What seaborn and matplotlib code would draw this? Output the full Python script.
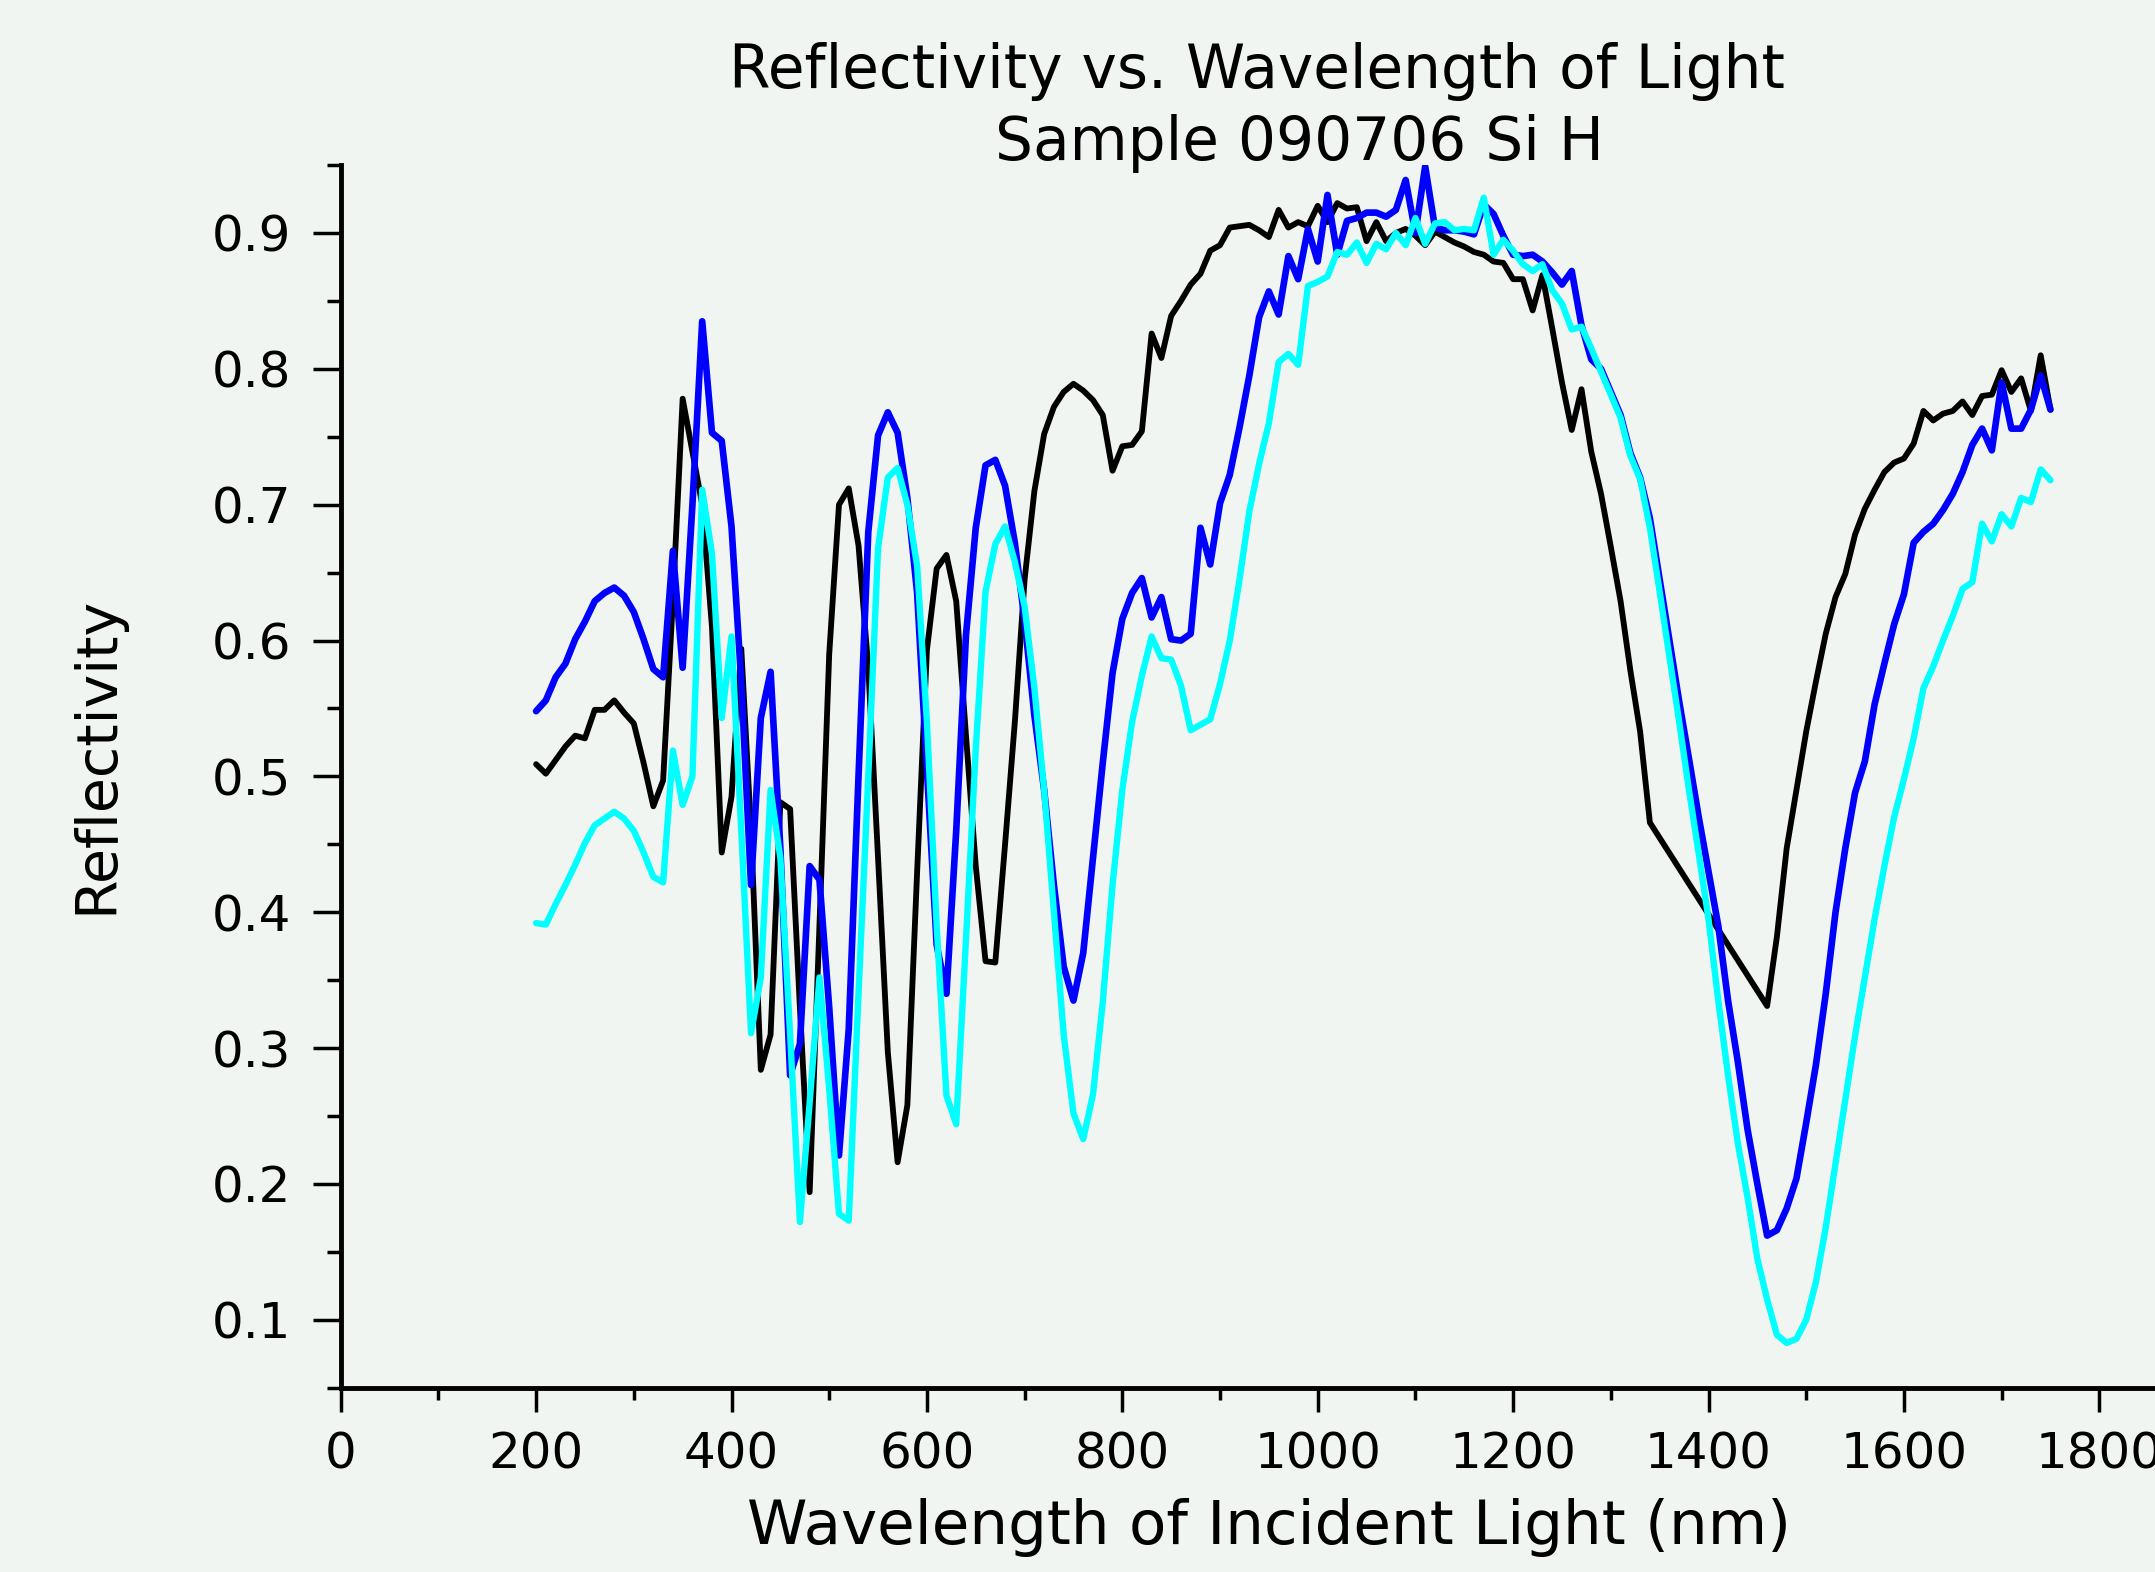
import numpy as np
import pandas as pd
import matplotlib
matplotlib.use("Agg")
import matplotlib.pyplot as plt
import seaborn as sns
from matplotlib.ticker import FixedLocator

nan = np.nan

# Wavelength grid (nm)
wavelength = list(range(200, 1760, 10))

black_vals = [
    0.509, 0.502, 0.512, 0.522, 0.530, 0.528, 0.549, 0.549, 0.556, 0.547,
    0.539, 0.510, 0.478, 0.497, 0.630, 0.778, 0.739, 0.700, 0.610, 0.444,
    0.485, 0.594, 0.460, 0.284, 0.310, 0.481, 0.476, 0.330, 0.194, 0.390,
    0.590, 0.700, 0.712, 0.670, 0.580, 0.440, 0.297, 0.216, 0.258, 0.430,
    0.593, 0.653, 0.663, 0.629, 0.530, 0.434, 0.364, 0.363, 0.450, 0.540,
    0.645, 0.710, 0.752, 0.772, 0.783, 0.789, 0.784, 0.777, 0.766, 0.725,
    0.743, 0.744, 0.754, 0.826, 0.808, 0.839, 0.850, 0.862, 0.870, 0.887,
    0.891, 0.904, 0.905, 0.906, 0.902, 0.897, 0.917, 0.904, 0.908, 0.905,
    0.920, 0.908, 0.922, 0.918, 0.919, 0.894, 0.908, 0.894, 0.900, 0.903,
    0.898, 0.891, 0.901, 0.897, 0.893, 0.890, 0.886, 0.884, 0.879, 0.878,
    0.866, 0.866, 0.843, 0.869, 0.830, 0.790, 0.755, 0.785, 0.739, 0.708,
    0.669, 0.629, 0.578, 0.533, 0.466, nan, nan, nan, nan, nan,
    nan, nan, nan, nan, nan, nan, 0.331, 0.382, 0.447, 0.490,
    0.533, 0.570, 0.605, 0.632, 0.649, 0.678, 0.697, 0.711, 0.724, 0.731,
    0.734, 0.745, 0.769, 0.762, 0.767, 0.769, 0.776, 0.766, 0.780, 0.781,
    0.799, 0.783, 0.793, 0.769, 0.810, 0.770,
]

blue_vals = [
    0.548, 0.556, 0.573, 0.583, 0.601, 0.614, 0.629, 0.635, 0.639, 0.633,
    0.621, 0.601, 0.579, 0.573, 0.666, 0.580, 0.700, 0.835, 0.753, 0.747,
    0.684, 0.570, 0.420, 0.543, 0.577, 0.447, 0.280, 0.303, 0.434, 0.424,
    0.330, 0.221, 0.314, 0.500, 0.680, 0.751, 0.768, 0.753, 0.705, 0.635,
    0.505, 0.376, 0.340, 0.460, 0.604, 0.683, 0.729, 0.733, 0.714, 0.672,
    0.615, 0.545, 0.490, 0.420, 0.360, 0.335, 0.370, 0.440, 0.510, 0.576,
    0.616, 0.635, 0.646, 0.617, 0.632, 0.601, 0.600, 0.605, 0.683, 0.656,
    0.701, 0.722, 0.757, 0.795, 0.838, 0.857, 0.840, 0.883, 0.866, 0.903,
    0.879, 0.928, 0.884, 0.909, 0.911, 0.915, 0.915, 0.912, 0.917, 0.939,
    0.900, 0.949, 0.904, 0.902, 0.902, 0.901, 0.899, 0.921, 0.914, 0.898,
    0.884, 0.883, 0.884, 0.879, 0.871, 0.862, 0.872, 0.832, 0.807, 0.800,
    0.783, 0.766, 0.738, 0.720, 0.690, 0.645, 0.600, 0.555, 0.513, 0.470,
    0.430, 0.390, 0.335, 0.290, 0.240, 0.200, 0.162, 0.166, 0.182, 0.204,
    0.245, 0.288, 0.340, 0.400, 0.447, 0.488, 0.511, 0.553, 0.583, 0.612,
    0.634, 0.672, 0.680, 0.686, 0.696, 0.708, 0.724, 0.744, 0.756, 0.740,
    0.790, 0.756, 0.756, 0.770, 0.795, 0.770,
]

cyan_vals = [
    0.392, 0.391, 0.406, 0.420, 0.435, 0.451, 0.464, 0.469, 0.474, 0.469,
    0.460, 0.444, 0.426, 0.422, 0.519, 0.479, 0.500, 0.711, 0.664, 0.543,
    0.603, 0.460, 0.311, 0.352, 0.490, 0.440, 0.310, 0.172, 0.260, 0.352,
    0.270, 0.178, 0.173, 0.340, 0.500, 0.668, 0.720, 0.727, 0.700, 0.655,
    0.540, 0.390, 0.265, 0.244, 0.380, 0.520, 0.636, 0.671, 0.684, 0.658,
    0.625, 0.565, 0.490, 0.400, 0.310, 0.252, 0.233, 0.266, 0.334, 0.420,
    0.490, 0.540, 0.574, 0.603, 0.587, 0.586, 0.567, 0.534, 0.538, 0.542,
    0.568, 0.600, 0.645, 0.695, 0.730, 0.760, 0.805, 0.811, 0.803, 0.861,
    0.864, 0.868, 0.886, 0.884, 0.893, 0.878, 0.892, 0.888, 0.900, 0.891,
    0.911, 0.892, 0.907, 0.908, 0.902, 0.903, 0.902, 0.926, 0.884, 0.895,
    0.887, 0.877, 0.872, 0.877, 0.858, 0.848, 0.829, 0.831, 0.815, 0.798,
    0.781, 0.764, 0.736, 0.719, 0.683, 0.636, 0.588, 0.540, 0.490, 0.443,
    0.395, 0.335, 0.280, 0.230, 0.190, 0.145, 0.115, 0.089, 0.083, 0.086,
    0.100, 0.128, 0.168, 0.215, 0.262, 0.309, 0.352, 0.395, 0.434, 0.470,
    0.498, 0.528, 0.565, 0.581, 0.600, 0.618, 0.638, 0.643, 0.686, 0.673,
    0.693, 0.684, 0.705, 0.702, 0.726, 0.718,
]

series_names = ["black", "blue", "cyan"]
series_colors = {"black": "#000000", "blue": "#0000ff", "cyan": "#00ffff"}
series_widths = {"black": 4.2, "blue": 4.8, "cyan": 4.6}

x_ticks = [0, 200, 400, 600, 800, 1000, 1200, 1400, 1600, 1800]
x_minor = [100, 300, 500, 700, 900, 1100, 1300, 1500, 1700]
y_ticks = [0.1, 0.2, 0.3, 0.4, 0.5, 0.6, 0.7, 0.8, 0.9]
y_tick_labels = ["0.1", "0.2", "0.3", "0.4", "0.5", "0.6", "0.7", "0.8", "0.9"]
y_minor = [0.05, 0.15, 0.25, 0.35, 0.45, 0.55, 0.65, 0.75, 0.85, 0.95]

title_line1 = "Reflectivity vs. Wavelength of Light"
title_line2 = "Sample 090706 Si H"
x_label = "Wavelength of Incident Light (nm)"
y_label = "Reflectivity"

# ---- build long table ----
frames = []
for name, vals in zip(series_names, [black_vals, blue_vals, cyan_vals]):
    frames.append(pd.DataFrame({"wavelength": wavelength,
                                "reflectivity": vals,
                                "series": name}))
df = pd.concat(frames, ignore_index=True).dropna()

sns.set_style("ticks")
plt.rcParams["font.family"] = ["DejaVu Sans"]
plt.rcParams["lines.linewidth"] = 4.5

bg = "#f1f5f1"
fig = plt.figure(figsize=(21.55, 15.72), dpi=100, facecolor=bg)
ax = fig.add_axes([0.1581, 0.1172, 0.8419, 0.7778], facecolor=bg)

sns.lineplot(data=df, x="wavelength", y="reflectivity", hue="series",
             hue_order=series_names, palette=series_colors, lw=4.5,
             legend=False, estimator=None, sort=False, ax=ax)

for line in ax.get_lines():
    c = matplotlib.colors.to_hex(line.get_color())
    for name, col in series_colors.items():
        if c == col:
            line.set_linewidth(series_widths[name])
    line.set_solid_joinstyle("round")
    line.set_solid_capstyle("round")

ax.set_xlim(0, 1857)
ax.set_ylim(0.05, 0.95)

ax.xaxis.set_major_locator(FixedLocator(x_ticks))
ax.xaxis.set_minor_locator(FixedLocator(x_minor))
ax.set_xticklabels([str(t) for t in x_ticks])
ax.yaxis.set_major_locator(FixedLocator(y_ticks))
ax.yaxis.set_minor_locator(FixedLocator(y_minor))
ax.set_yticklabels(y_tick_labels)

for s in ["top", "right"]:
    ax.spines[s].set_visible(False)
ax.spines["left"].set_linewidth(3.5)
ax.spines["bottom"].set_linewidth(3.5)
ax.spines["left"].set_color("black")
ax.spines["bottom"].set_color("black")

ax.tick_params(axis="x", which="major", direction="out", length=17.5,
               width=2.5, labelsize=36, pad=13, color="black", labelcolor="black")
ax.tick_params(axis="x", which="minor", direction="out", length=8.6,
               width=2.5, color="black")
ax.tick_params(axis="y", which="major", direction="out", length=20,
               width=2.5, labelsize=36, pad=15.6, color="black", labelcolor="black")
ax.tick_params(axis="y", which="minor", direction="out", length=10,
               width=2.5, color="black")

ax.set_xlabel(x_label, fontsize=44, color="black")
ax.xaxis.set_label_coords(0.5116, -0.0900)
ax.set_ylabel(y_label, fontsize=41, color="black")
ax.yaxis.set_label_coords(-0.1190, 0.5176)

fig.text(1257 / 2155, 1 - 88 / 1572, title_line1, fontsize=43,
         ha="center", va="baseline", color="black")
fig.text(1299 / 2155, 1 - 160 / 1572, title_line2, fontsize=43,
         ha="center", va="baseline", color="black")

fig.savefig("out.png", dpi=100, facecolor=bg)
